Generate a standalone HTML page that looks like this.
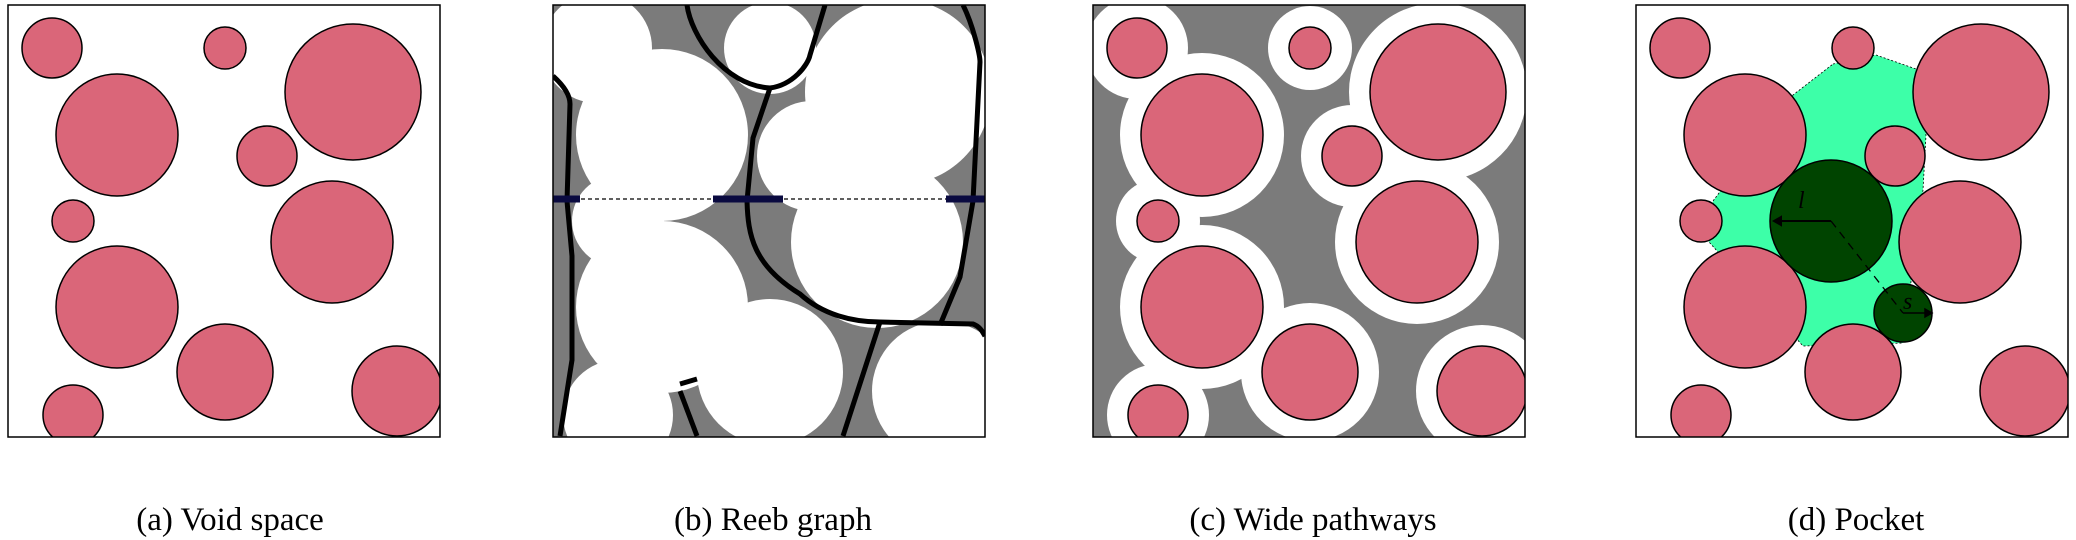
<!DOCTYPE html>
<html><head><meta charset="utf-8"><style>
html,body{margin:0;padding:0;background:#fff;width:2076px;height:540px;overflow:hidden}
text{font-family:"Liberation Serif",serif}
</style></head><body>
<svg id="fig" width="2076" height="540" viewBox="0 0 2076 540" xmlns="http://www.w3.org/2000/svg">
<defs><clipPath id="pc"><rect x="0" y="0" width="432" height="432"/></clipPath></defs>
</svg>
<script>
const circleX=[44,217,345,109,259,65,324,109,217,65,389];
const circleY=[43,43,87,130,151,216,237,302,367,410,386];
const circleR=[30,21,68,61,30,21,61,61,48,30,45];
const panelX=[8,553,1093,1636];
const captions=["(a) Void space","(b) Reeb graph","(c) Wide pathways","(d) Pocket"];
const captionX=[230,773,1313,1856];
const NS="http://www.w3.org/2000/svg";
const svg=document.getElementById('fig');
function mk(t,a,p){const e=document.createElementNS(NS,t);for(const k in a)e.setAttribute(k,a[k]);p.appendChild(e);return e;}
const PINK="#da6679";
function pinks(g,name){
  for(let i=0;i<circleX.length;i++){
    const c=mk('circle',{cx:circleX[i],cy:circleY[i],r:circleR[i],fill:PINK,stroke:'#000','stroke-width':1.5},g);
    
    
  }
}
for(let p=0;p<4;p++){
  const outer=mk('g',{transform:`translate(${panelX[p]},5)`},svg);
  
  
  const g=mk('g',{'clip-path':'url(#pc)'},outer);
  const bg=(p==1||p==2)?'#7b7b7b':'#fff';
  mk('rect',{x:0,y:0,width:432,height:432,fill:bg},g);
  if(p==0){pinks(g,'void');}
  if(p==1){
    for(let i=0;i<circleX.length;i++){
      const c=mk('circle',{cx:circleX[i],cy:circleY[i],r:circleR[i]+25,fill:'#fff'},g);
      
      
    }
    const paths=["M0,71 C10,80 17,90 17,99 L14,196 L19,251 L19,355 L7,431",
      "M134,0 C138,30 170,80 217,83 C240,80 255,60 257,50 L272,0",
      "M217,83 L200,133 L194,196 C195,230 200,260 247,289 C270,310 300,317 327,317 L420,319 C428,322 430,328 432,331",
      "M327,317 L290,431",
      "M410,0 C420,20 427,50 427,57 L420,196 L407,272 L387,320",
      "M127,379 L144,374","M127,386 L144,431"];
    paths.forEach((d,i)=>{const e=mk('path',{d:d,fill:'none',stroke:'#000','stroke-width':5},g);
      });
    const dl=mk('line',{x1:0,y1:194,x2:432,y2:194,stroke:'#000','stroke-width':1.3,'stroke-dasharray':'4,3'},g);
    
    [[0,27],[160,230],[393,432]].forEach((s,i)=>{const r=mk('rect',{x:s[0],y:190.5,width:s[1]-s[0],height:7,fill:'#0a0a40'},g);
      });
  }
  if(p==2){
    for(let i=0;i<circleX.length;i++){
      const c=mk('circle',{cx:circleX[i],cy:circleY[i],r:circleR[i]+21,fill:'#fff'},g);
      
      
    }
    pinks(g,'wide');
  }
  if(p==3){
    const poly=mk('polygon',{points:"197,59 240,50 280,64 290,130 287,185 267,338 167,341 73,237 77,196 157,90",fill:'#3dffa8',stroke:'#000','stroke-width':0.8,'stroke-dasharray':'2,2'},g);
    
    pinks(g,'pocket');
    const L=mk('circle',{cx:195,cy:216,r:61,fill:'#004400',stroke:'#000','stroke-width':1.5},g);
    
    const S=mk('circle',{cx:267,cy:308,r:29,fill:'#004400',stroke:'#000','stroke-width':1.5},g);
    
    mk('path',{d:"M195,216 L138,216 M138,216 l7,-4 l0,8 z",stroke:'#000','stroke-width':2,fill:'#000'},g);
    mk('line',{x1:195,y1:216,x2:267,y2:308,stroke:'#000','stroke-width':1.3,'stroke-dasharray':'8,6'},g);
    mk('path',{d:"M267,308 L296,308 M296,308 l-7,-4 l0,8 z",stroke:'#000','stroke-width':1.5,fill:'#000'},g);
    const tl=mk('text',{x:162,y:203,'font-size':24,'font-style':'italic'},g);tl.textContent='l';
    
    const ts=mk('text',{x:267,y:304,'font-size':24,'font-style':'italic'},g);ts.textContent='s';
    
  }
  const b=mk('rect',{x:0,y:0,width:432,height:432,fill:'none',stroke:'#000','stroke-width':1.5},outer);
  
  const t=mk('text',{x:captionX[p],y:530,'font-size':33,'text-anchor':'middle',fill:'#000'},svg);
  t.textContent=captions[p];
  
  
}
</script>
</body></html>
